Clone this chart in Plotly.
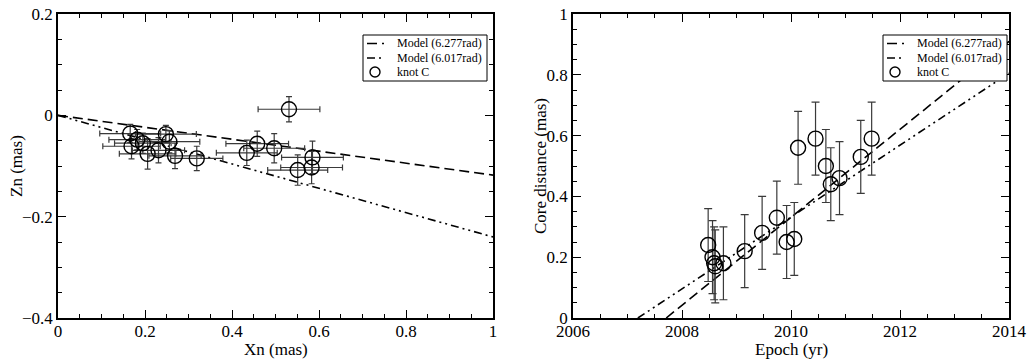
import plotly.graph_objects as go

# ---------------- data ----------------
# left panel: knot C positions
xn = [0.166, 0.182, 0.195, 0.169, 0.248, 0.256, 0.206, 0.231, 0.269, 0.319,
      0.434, 0.458, 0.497, 0.531, 0.551, 0.583, 0.585]
zn = [-0.036, -0.048, -0.055, -0.061, -0.037, -0.052, -0.076, -0.069, -0.080, -0.085,
      -0.074, -0.056, -0.065, 0.012, -0.108, -0.103, -0.083]
xn_err = [0.07, 0.065, 0.065, 0.066, 0.07, 0.07, 0.065, 0.06, 0.06, 0.06,
          0.07, 0.072, 0.07, 0.071, 0.069, 0.071, 0.071]
zn_err = [0.018, 0.02, 0.02, 0.025, 0.017, 0.022, 0.03, 0.025, 0.025, 0.024,
          0.025, 0.025, 0.029, 0.025, 0.03, 0.032, 0.032]

# left panel: model lines
model_xn = [0.0, 1.0]
model_a_zn = [0.0, -0.118]   # Model (6.277rad)
model_b_zn = [0.0, -0.240]   # Model (6.017rad)

# right panel: core distance vs epoch
epoch = [2008.48, 2008.56, 2008.59, 2008.61, 2008.76, 2009.15, 2009.47, 2009.74, 2009.92,
         2010.06, 2010.13, 2010.45, 2010.64, 2010.73, 2010.89, 2011.28, 2011.48]
core_dist = [0.24, 0.20, 0.18, 0.17, 0.18, 0.22, 0.28, 0.33, 0.25,
             0.26, 0.56, 0.59, 0.50, 0.44, 0.46, 0.53, 0.59]
core_err = [0.12] * 17

model_a_epoch = [2007.71, 2014.0]
model_a_dist = [0.0, 0.91]
model_b_epoch = [2007.19, 2014.0]
model_b_dist = [0.0, 0.805]

legend_labels = ["Model (6.277rad)", "Model (6.017rad)", "knot C"]
axis_titles = ["Xn (mas)", "Zn (mas)", "Epoch (yr)", "Core distance (mas)"]

# ---------------- styling ----------------
FONT = "Liberation Serif"
DASH_A = "10px,5px"
DASH_B = "8px,4px,2px,4px,2px,4px"
ERRC = "#3a3a3a"

fig = go.Figure()

# left panel
fig.add_trace(go.Scatter(x=model_xn, y=model_a_zn, mode="lines", name=legend_labels[0],
                         line=dict(color="black", width=1.6, dash=DASH_A),
                         xaxis="x", yaxis="y"))
fig.add_trace(go.Scatter(x=model_xn, y=model_b_zn, mode="lines", name=legend_labels[1],
                         line=dict(color="black", width=1.6, dash=DASH_B),
                         xaxis="x", yaxis="y"))
fig.add_trace(go.Scatter(x=xn, y=zn, mode="markers", name=legend_labels[2],
                         marker=dict(symbol="circle-open", size=15, color="black",
                                     line=dict(width=1.4, color="black")),
                         error_x=dict(type="data", array=xn_err, color=ERRC, thickness=1.2, width=3),
                         error_y=dict(type="data", array=zn_err, color=ERRC, thickness=1.2, width=3),
                         xaxis="x", yaxis="y"))

# right panel
fig.add_trace(go.Scatter(x=model_a_epoch, y=model_a_dist, mode="lines", name=legend_labels[0],
                         line=dict(color="black", width=1.6, dash=DASH_A),
                         xaxis="x2", yaxis="y2"))
fig.add_trace(go.Scatter(x=model_b_epoch, y=model_b_dist, mode="lines", name=legend_labels[1],
                         line=dict(color="black", width=1.6, dash=DASH_B),
                         xaxis="x2", yaxis="y2"))
fig.add_trace(go.Scatter(x=epoch, y=core_dist, mode="markers", name=legend_labels[2],
                         marker=dict(symbol="circle-open", size=15, color="black",
                                     line=dict(width=1.4, color="black")),
                         error_y=dict(type="data", array=core_err, color=ERRC, thickness=1.2, width=4),
                         xaxis="x2", yaxis="y2"))


def axis(rng, dtick, minor_dtick, domain, anchor):
    return dict(range=rng, dtick=dtick, tick0=rng[0], domain=domain, anchor=anchor,
                showline=True, linecolor="black", linewidth=1.5, mirror="ticks",
                ticks="inside", ticklen=8, tickwidth=1.2, tickcolor="black",
                showgrid=False, zeroline=False, automargin=False,
                tickfont=dict(family=FONT, size=17, color="black"),
                minor=dict(ticks="inside", ticklen=4, tickwidth=1, tickcolor="black",
                           dtick=minor_dtick, showgrid=False))


W, H = 1027, 362
ml, mr, mt, mb = 58, 18, 14, 44
pw = W - ml - mr
ph = H - mt - mb
left_dom = [0, (493 - ml) / pw]
right_dom = [(573 - ml) / pw, 1]


def px(x):
    return (x - ml) / pw


def py(y):
    return 1 - (y - mt) / ph


shapes = []
annotations = []

# axis titles placed as annotations
title_pos = [(275.5, 349, 0), (16, 166, -90), (791, 349, 0), (540, 166, -90)]
for txt, (tx, ty, ang) in zip(axis_titles, title_pos):
    annotations.append(dict(text=txt, xref="paper", yref="paper", x=px(tx), y=py(ty),
                            xanchor="center", yanchor="middle", textangle=ang,
                            showarrow=False, font=dict(family=FONT, size=17, color="black")))

# hand-drawn legend boxes (mimicking the original's compact legends)
for left in (363, 883):
    right = left + 124
    shapes.append(dict(type="rect", xref="paper", yref="paper",
                       x0=px(left), x1=px(right), y0=py(35), y1=py(81),
                       line=dict(color="black", width=1), fillcolor="white", layer="above"))
    rows = [43.5, 58, 72]
    shapes.append(dict(type="line", xref="paper", yref="paper",
                       x0=px(left + 4), x1=px(left + 21), y0=py(rows[0]), y1=py(rows[0]),
                       line=dict(color="black", width=1.6, dash=DASH_A), layer="above"))
    shapes.append(dict(type="line", xref="paper", yref="paper",
                       x0=px(left + 4), x1=px(left + 21), y0=py(rows[1]), y1=py(rows[1]),
                       line=dict(color="black", width=1.6, dash=DASH_B), layer="above"))
    shapes.append(dict(type="circle", xref="paper", yref="paper",
                       x0=px(left + 7), x1=px(left + 17), y0=py(rows[2] + 5), y1=py(rows[2] - 5),
                       line=dict(color="black", width=1.4), layer="above"))
    for r, lab in zip(rows, legend_labels):
        annotations.append(dict(text=lab, xref="paper", yref="paper",
                                x=px(left + 32), y=py(r), xanchor="left", yanchor="middle",
                                showarrow=False,
                                font=dict(family=FONT, size=12, color="black")))

fig.update_layout(
    width=W, height=H,
    margin=dict(l=ml, r=mr, t=mt, b=mb),
    paper_bgcolor="white", plot_bgcolor="white",
    font=dict(family=FONT, color="black"),
    xaxis=axis([0, 1], 0.2, 0.05, left_dom, "y"),
    yaxis=axis([-0.4, 0.2], 0.2, 0.05, [0, 1], "x"),
    xaxis2=axis([2006, 2014], 2, 0.5, right_dom, "y2"),
    yaxis2=axis([0, 1], 0.2, 0.05, [0, 1], "x2"),
    showlegend=False,
    shapes=shapes,
    annotations=annotations,
)

# pull x tick labels slightly closer to the axis, if supported
for ax in (fig.layout.xaxis, fig.layout.xaxis2):
    try:
        ax.ticklabelstandoff = -3
    except Exception:
        pass

fig.write_html("out.html")
